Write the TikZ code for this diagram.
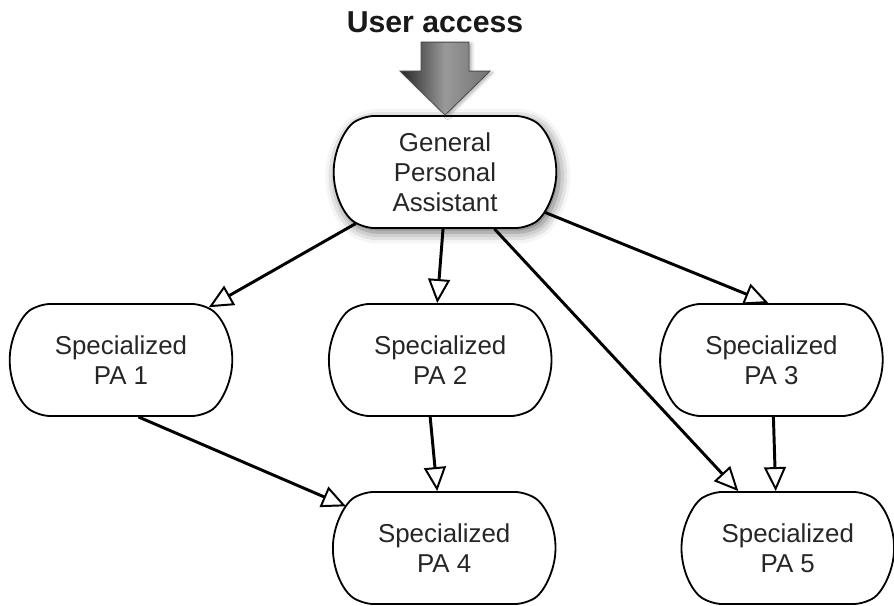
\documentclass[tikz,border=0pt]{standalone}
\usepackage{fontspec}
\setmainfont{Liberation Sans}
\usetikzlibrary{arrows.meta,shapes.misc,shadows.blur}

\begin{document}
\begin{tikzpicture}[auto, node distance=4.7cm,
	main node/.style={rounded rectangle, rounded rectangle arc length=110, rounded corners=8pt, draw, line width=1.3pt,
		fill=white, minimum width=5.8cm, minimum height=2.8cm, align=center, text=black!85,
		font=\fontsize{18.4}{21.5}\selectfont},
	link/.style={line width=2.1pt, -{Triangle[open, length=0.6cm, width=0.55cm, line width=1.4pt]}}]

	\useasboundingbox (0,0) rectangle (22.35,15.125);

	\node[main node, blur shadow={shadow xshift=2pt, shadow yshift=-3pt, shadow blur radius=8pt, shadow opacity=60}] (gpa) at (11.125,10.825) {General\\Personal\\Assistant};
	\node[main node] (pa1) [below of=gpa, xshift=-8.1cm] {Specialized\\PA 1};
	\node[main node] (pa2) [below of=gpa, xshift=-0.12cm] {Specialized\\PA 2};
	\node[main node] (pa3) [below of=gpa, xshift=8.16cm] {Specialized\\PA 3};
	\node[main node] (pa4) [below of=pa2, xshift=0.1cm] {Specialized\\PA 4};
	\node[main node, minimum width=5.55cm] (pa5) [below of=pa3, xshift=0.41cm] {Specialized\\PA 5};

	% user access arrow
	\path[shift={(gpa.north)}, draw=black!70, line width=0.6pt, left color=black!85, right color=black!55,
		middle color=black!40, blur shadow={shadow xshift=2pt, shadow yshift=-1pt, shadow opacity=30}]
	(0,0) -- (-1.125,1.1) -- (-0.6,1.1) -- (-0.6,1.825) -- (0.6,1.825) -- (0.6,1.1) -- (1.125,1.1) -- cycle;
	\node[font=\fontsize{21.5}{26}\selectfont\bfseries, text=black!90] (ua) at ([xshift=-0.25cm, yshift=2.31cm]gpa.north) {User access};

	\path[link]
	(gpa.-150) edge (pa1.31)
	(gpa.-92) edge (pa2.93)
	(gpa.-22) edge (pa3.93)
	(gpa.-49) edge (pa5.131)
	(pa1.-73) edge (pa4.157)
	(pa2.-100) edge (pa4.97)
	(pa3.-88) edge (pa5.102);
\end{tikzpicture}
\end{document}
